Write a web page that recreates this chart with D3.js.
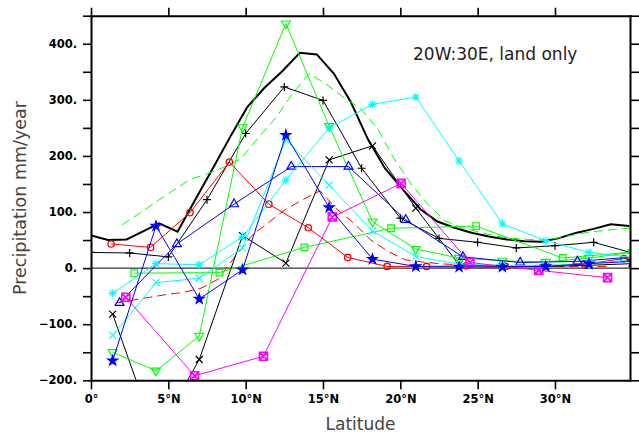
<!DOCTYPE html>
<html>
<head>
<meta charset="utf-8">
<script src="https://cdnjs.cloudflare.com/ajax/libs/d3/7.8.5/d3.min.js"></script>
<style>
  body { margin: 0; background: white; }
  svg text { font-family: "DejaVu Sans", sans-serif; }
</style>
</head>
<body>
<svg id="chart" width="639" height="433"></svg>
<script>
// observed (thick black) and two ensemble means (dashed), fine grids
const obsLat = [0, 1.1, 2.3, 3.4, 4.4, 5.6, 6.8, 7.9, 9.0, 10.1, 11.2, 12.4, 13.5, 14.6, 15.7, 16.8,
  17.9, 19.0, 20.2, 21.3, 22.4, 23.5, 24.6, 25.8, 26.9, 28.0, 29.1, 30.2, 31.4, 32.5, 33.6, 34.8];
const obsVal = [58, 50, 51, 66, 80, 65, 125, 179, 234, 287, 321, 352, 384, 381, 347, 296,
  230, 178, 139, 105, 83, 72, 63, 56, 51, 48, 47, 53, 63, 70, 78, 75];

const greenDashLat = [2.0, 3.1, 4.2, 5.3, 6.4, 7.5, 8.6, 9.7, 10.8, 11.9, 13.0, 14.1, 15.2, 16.3, 17.4,
  18.5, 19.6, 20.7, 21.8, 22.9, 24.0, 25.1, 26.2, 27.3, 28.4, 29.5, 30.6, 31.7, 32.8, 33.9, 34.8];
const greenDashVal = [77, 97, 118, 138, 158, 168, 180, 195, 232, 266, 310, 347, 328, 305, 285,
  250, 195, 150, 113, 84, 72, 64, 57, 53, 51, 50, 56, 62, 66, 69, 71];

const redDashLat = [1.6, 2.7, 3.8, 4.9, 6.0, 7.1, 8.2, 9.3, 10.4, 11.5, 12.6, 13.7, 14.8, 15.9, 17.0,
  18.1, 19.2, 20.3, 21.4, 22.5, 23.6, 24.7, 25.8, 26.9, 28.0, 29.1, 30.2, 31.3, 32.4, 33.5];
const redDashVal = [-62, -57, -52, -47, -43, -36, -20, 20, 58, 82, 105, 122, 138, 105, 80,
  50, 30, 15, 11, 8, 6, 5, 4, 3, 3, 3, 3, 3, 3, 3];

// individual models
const plusLat = [0, 2.5, 5, 7.5, 10, 12.5, 15, 17.5, 20, 22.5, 25, 27.5, 30, 32.5, 35];
const plusVal = [28, 27, 20, 122, 240, 323, 299, 178, 89, 53, 46, 36, 40, 46, 27];

const lat28 = [1.4, 4.2, 7.0, 9.8, 12.6, 15.4, 18.2, 21.0, 23.8, 26.6, 29.4, 32.2, 35.0];
const crossVal = [-82, -300, -163, 58, 9, 193, 218, 107, 6, 3, 3, 5, 8];
const triDownVal = [-150, -183, -121, 251, 436, 253, 83, 34, 18, 13, 11, 18, 28];
const asterVal = [-45, 8, 6, 56, 157, 250, 292, 305, 191, 79, 49, 28, 19];
const cyanCrossVal = [-120, -26, -18, 36, 229, 148, 66, 21, 7, 5, 5, 8, 15];
const starVal = [-165, 75, -55, -3, 237, 108, 16, 3, 2, 2, 3, 8, 12];

const squareLat = [2.8, 8.3, 13.8, 19.4, 24.9, 30.5, 36.0];
const squareVal = [-9, -8, 37, 71, 75, 18, 31];

const triUpLat = [1.85, 5.55, 9.25, 12.95, 16.65, 20.35, 24.05, 27.75, 31.45, 35.15];
const triUpVal = [-62, 43, 114, 181, 181, 86, 20, 10, 12, 20];

const circleLat = [1.3, 3.85, 6.4, 8.95, 11.5, 14.05, 16.6, 19.15, 21.7, 24.25, 26.8, 29.35, 31.9, 34.45, 37.0];
const circleVal = [43, 37, 99, 189, 114, 72, 19, 3, 3, 4, 3, 3, 7, 17, 22];

const sqxLat = [2.25, 6.7, 11.15, 15.6, 20.05, 24.5, 28.95, 33.4];
const sqxVal = [-52, -192, -157, 91, 151, 10, -4, -17];

const yTicks = [-200, -100, 0, 100, 200, 300, 400];
const xTicks = [0, 5, 10, 15, 20, 25, 30];

const series = [
  {lat: obsLat, val: obsVal, color: "black", width: 2},
  {lat: greenDashLat, val: greenDashVal, color: "#00ff00", dash: "9,5"},
  {lat: redDashLat, val: redDashVal, color: "#ff0000", dash: "9,5"},
  {lat: plusLat, val: plusVal, color: "black", marker: "plus"},
  {lat: lat28, val: crossVal, color: "black", marker: "cross"},
  {lat: squareLat, val: squareVal, color: "#00ff00", marker: "square"},
  {lat: lat28, val: triDownVal, color: "#00ff00", marker: "triDown"},
  {lat: circleLat, val: circleVal, color: "#ff0000", marker: "circle"},
  {lat: triUpLat, val: triUpVal, color: "#0000ff", marker: "triUp"},
  {lat: lat28, val: cyanCrossVal, color: "#00ffff", marker: "cross"},
  {lat: lat28, val: asterVal, color: "#00ffff", marker: "aster"},
  {lat: sqxLat, val: sqxVal, color: "#ff00ff", marker: "squarex"},
  {lat: lat28, val: starVal, color: "#0000ff", marker: "star"}
];

const L = 91, R = 630, T = 15.7, B = 380.3;
const x = d3.scaleLinear().domain([0, 34.85]).range([L, R]);
const y = d3.scaleLinear().domain([-200, 450]).range([B, T]);

const svg = d3.select("#chart");

svg.append("clipPath").attr("id", "plotclip")
  .append("rect").attr("x", L).attr("y", T).attr("width", R - L).attr("height", B - T);

// zero line
svg.append("line")
  .attr("x1", L).attr("x2", R).attr("y1", y(0)).attr("y2", y(0))
  .attr("stroke", "black").attr("stroke-width", 1);

const plot = svg.append("g").attr("clip-path", "url(#plotclip)");
const line = d3.line().x(d => x(d[0])).y(d => y(d[1]));

const markerPath = {
  plus: "M-4,0H4M0,-4V4",
  cross: "M-3.5,-3.5L3.5,3.5M-3.5,3.5L3.5,-3.5",
  aster: "M-4,0H4M0,-4V4M-3,-3L3,3M-3,3L3,-3",
  squarex: "M-4,-4H4V4H-4ZM-4,-4L4,4M-4,4L4,-4",
  square: d3.symbol(d3.symbolSquare, 44)(),
  triUp: d3.symbol(d3.symbolTriangle, 34)(),
  triDown: d3.symbol(d3.symbolTriangle, 34)(),
  star: d3.symbol(d3.symbolStar, 30)()
};

series.forEach(s => {
  const pts = s.lat.map((la, i) => [la, s.val[i]]);
  plot.append("path")
    .attr("d", line(pts))
    .attr("fill", "none")
    .attr("stroke", s.color)
    .attr("stroke-width", s.width || 1)
    .attr("stroke-dasharray", s.dash || null);

  if (!s.marker) return;
  const g = plot.append("g");
  if (s.marker === "circle") {
    g.selectAll("circle").data(pts).join("circle")
      .attr("cx", d => x(d[0])).attr("cy", d => y(d[1])).attr("r", 3.2)
      .attr("fill", "none").attr("stroke", s.color).attr("stroke-width", 1.3);
    return;
  }
  g.selectAll("path").data(pts).join("path")
    .attr("d", markerPath[s.marker])
    .attr("transform", d => `translate(${x(d[0])},${y(d[1])})` + (s.marker === "triDown" ? " rotate(180)" : ""))
    .attr("fill", s.marker === "star" ? s.color : "none")
    .attr("stroke", s.color)
    .attr("stroke-width", s.marker === "squarex" ? 1.6 : 1.2);
});

// axes
const fmtY = d => yTicks.includes(d) ? (d < 0 ? "\u2212" + (-d) : d) + "." : "";
const axLeft = svg.append("g").attr("transform", `translate(${L},0)`)
  .call(d3.axisLeft(y).tickValues(d3.range(-200, 451, 50)).tickFormat(fmtY).tickSize(8).tickSizeOuter(0).tickPadding(6));
const axRight = svg.append("g").attr("transform", `translate(${R},0)`)
  .call(d3.axisRight(y).tickValues(d3.range(-200, 451, 50)).tickFormat("").tickSize(9).tickSizeOuter(0));
const axBottom = svg.append("g").attr("transform", `translate(0,${B})`)
  .call(d3.axisBottom(x).tickValues(xTicks).tickFormat(d => d === 0 ? "0°" : d + "°N").tickSize(9).tickSizeOuter(0).tickPadding(6));
const axTop = svg.append("g").attr("transform", `translate(0,${T})`)
  .call(d3.axisTop(x).tickValues(xTicks).tickFormat("").tickSize(8).tickSizeOuter(0));

[axLeft, axRight, axBottom, axTop].forEach(a => {
  a.select(".domain").attr("stroke-width", 2).attr("stroke-linecap", "square");
  a.selectAll(".tick line").attr("stroke-width", 1.6);
  a.selectAll("text").attr("font-family", "DejaVu Sans").attr("font-size", 11.5)
    .attr("font-weight", "bold").attr("fill", "black");
});

// labels
svg.append("text").attr("x", 413).attr("y", 60)
  .attr("font-size", 17).attr("fill", "#222").text("20W:30E, land only");

svg.append("text").attr("x", (L + R) / 2).attr("y", 430)
  .attr("text-anchor", "middle").attr("font-size", 17).attr("fill", "#444").text("Latitude");

svg.append("text")
  .attr("transform", `translate(26,${(T + B) / 2}) rotate(-90)`)
  .attr("text-anchor", "middle").attr("font-size", 17.5).attr("fill", "#444")
  .text("Precipitation mm/year");
</script>
</body>
</html>
